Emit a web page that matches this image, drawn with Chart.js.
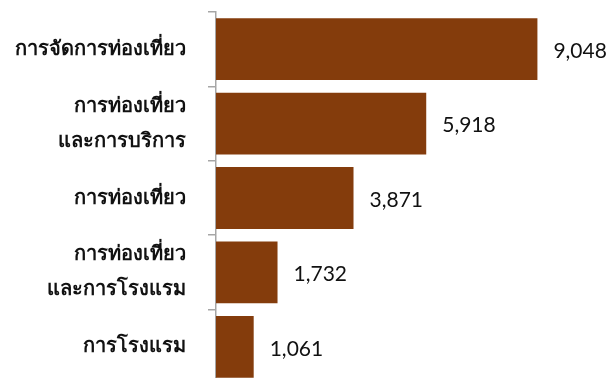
<!DOCTYPE html>
<html lang="th">
  <head>
    <meta charset="UTF-8" />
    <title>Tourism chart</title>
    <script src="https://cdn.jsdelivr.net/npm/chart.js"></script>
    <style>
      html, body { margin: 0; padding: 0; background: #fff; overflow: hidden; }
      #wrap { width: 607px; height: 384px; }
    </style>
  </head>
  <body>
    <div id="wrap"><canvas id="chart"></canvas></div>
    <script>
      const categories = [
        "การจัดการท่องเที่ยว",
        ["การท่องเที่ยว", "และการบริการ"],
        "การท่องเที่ยว",
        ["การท่องเที่ยว", "และการโรงแรม"],
        "การโรงแรม",
      ];
      const values = [9048, 5918, 3871, 1732, 1061];

      // value labels to the right of each bar
      const valueLabels = {
        id: "valueLabels",
        afterDatasetsDraw(chart) {
          const ctx = chart.ctx;
          const meta = chart.getDatasetMeta(0);
          ctx.save();
          ctx.font = "21px Lato";
          ctx.fillStyle = "#111";
          ctx.textAlign = "left";
          ctx.textBaseline = "middle";
          meta.data.forEach((bar, i) => {
            ctx.fillText(values[i].toLocaleString("en-US"), bar.x + 16, bar.y + 2);
          });
          ctx.restore();
        },
      };

      new Chart(document.getElementById("chart"), {
        type: "bar",
        data: {
          labels: categories,
          datasets: [
            {
              data: values,
              backgroundColor: "#843C0C",
              borderWidth: 0,
              barPercentage: 0.83,
              categoryPercentage: 1,
            },
          ],
        },
        options: {
          indexAxis: "y",
          responsive: true,
          maintainAspectRatio: false,
          animation: false,
          layout: { padding: { top: 12, right: 18, bottom: 0, left: 0 } },
          plugins: { legend: { display: false }, tooltip: { enabled: false } },
          scales: {
            x: { display: false, min: 0, max: 10500 },
            y: {
              afterFit(scale) {
                scale.width = 216;
                scale.paddingTop = 0;
                scale.paddingBottom = 0;
              },
              border: { display: true, color: "#a6a6a6", width: 1.5 },
              grid: { drawOnChartArea: false, tickLength: 8, color: "#a6a6a6", lineWidth: 1.5 },
              ticks: {
                padding: 22,
                color: "#111",
                font: { size: 20, weight: "bold", lineHeight: 1.75 },
              },
            },
          },
        },
        plugins: [valueLabels],
      });
    </script>
  </body>
</html>
